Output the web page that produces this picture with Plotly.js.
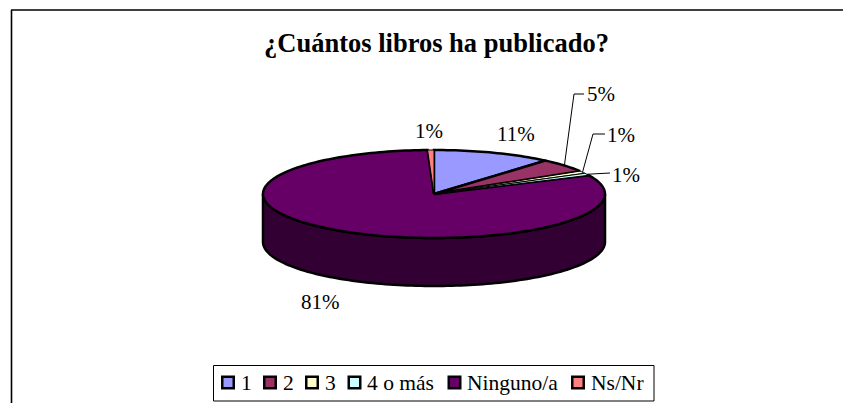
<!DOCTYPE html>
<html>
<head>
<meta charset="utf-8">
<script src="https://cdn.plot.ly/plotly-3.0.1.min.js"></script>
<style>html,body{margin:0;padding:0;background:#fff}#c{width:843px;height:403px}</style>
</head>
<body>
<div id="c"></div>
<script>
// Data
const categories = ['1', '2', '3', '4 o más', 'Ninguno/a', 'Ns/Nr'];
const values = [11.3, 5.0, 0.9, 0.8, 81.4, 0.6];
const colors = ['#9999FF', '#993366', '#FFFFCC', '#CCFFFF', '#660066', '#FF8080'];
const sideColors = ['#4D4D80', '#4D1A33', '#808066', '#668080', '#330033', '#804040'];
const labelPos = [[516, 134], [601, 94], [621, 135], [626, 175], [320, 302], [429, 131]];
const leaderElbows = [null, [[574, 94], [584, 94]], [[593, 134], [605, 134]], [[610, 173]], null, null];
const legendStarts = [221, 263, 305, 347.5, 447.5, 571];

// Geometry of the tilted pie
const cx = 434, cy = 194, rx = 171, ry = 44, depth = 48;
const FONT = '"Liberation Serif","Times New Roman",serif';
const total = values.reduce((a, b) => a + b, 0);

function rim(deg, dy) {
  const t = deg * Math.PI / 180;
  return [cx + rx * Math.sin(t), cy - ry * Math.cos(t) + (dy || 0)];
}
function arc(a, b, dy) {
  const n = Math.max(2, Math.ceil(Math.abs(b - a) / 1.5));
  const out = [];
  for (let i = 0; i <= n; i++) out.push(rim(a + (b - a) * i / n, dy));
  return out;
}
function polyTrace(pts, fill, name, width) {
  return {
    type: 'scatter', mode: 'lines', x: pts.map(p => p[0]), y: pts.map(p => p[1]),
    fill: 'toself', fillcolor: fill, line: {color: '#000', width: width, simplify: false},
    name: name, showlegend: false, hoverinfo: 'skip'
  };
}

const traces = [];
const annotations = [];
let angle = 0;
const spans = values.map(v => { const s = angle; angle += v / total * 360; return [s, angle]; });

// side walls (front half only)
spans.forEach((s, i) => {
  const a = Math.max(s[0], 90), b = Math.min(s[1], 270);
  if (b > a) {
    const pts = arc(a, b, 0).concat(arc(b, a, depth));
    pts.push(pts[0]);
    traces.push(polyTrace(pts, sideColors[i], categories[i] + ' lado', 2.5));
  }
});
// top faces: wide slices first, then the very thin ones on top with a lighter edge
const order = values.map((v, i) => i).sort((p, q) => values[q] - values[p]);
order.forEach(i => {
  const s = spans[i];
  const pts = [[cx, cy]].concat(arc(s[0], s[1], 0));
  pts.push([cx, cy]);
  traces.push(polyTrace(pts, colors[i], categories[i], values[i] < 1 ? 1 : 2.5));
});
// leader lines and percentage labels
spans.forEach((s, i) => {
  const pct = Math.round(values[i] / total * 100) + '%';
  annotations.push({
    x: labelPos[i][0], y: labelPos[i][1], xref: 'x', yref: 'y', text: pct, showarrow: false,
    font: {family: FONT, size: 21, color: '#000'}, xanchor: 'center', yanchor: 'middle'
  });
  if (leaderElbows[i]) {
    const pts = [rim((s[0] + s[1]) / 2, 0)].concat(leaderElbows[i]);
    traces.push({
      type: 'scatter', mode: 'lines', x: pts.map(p => p[0]), y: pts.map(p => p[1]),
      line: {color: '#000', width: 1}, showlegend: false, hoverinfo: 'skip'
    });
  }
});
// legend entries
traces.push({
  type: 'scatter', mode: 'markers', x: legendStarts.map(x => x + 7), y: categories.map(() => 382.5),
  marker: {symbol: 'square', size: 11.5, color: colors, line: {color: '#000', width: 2.5}},
  showlegend: false, hoverinfo: 'skip'
});
categories.forEach((c, i) => annotations.push({
  x: legendStarts[i] + 17.5, y: 383, xref: 'x', yref: 'y', text: c, showarrow: false,
  font: {family: FONT, size: 21.5, color: '#000'}, xanchor: 'left', yanchor: 'middle'
}));

const layout = {
  width: 843, height: 403, margin: {l: 0, r: 0, t: 0, b: 0},
  paper_bgcolor: '#fff', plot_bgcolor: '#fff', showlegend: false,
  title: {text: '<b>¿Cuántos libros ha publicado?</b>', font: {family: FONT, size: 26.5, color: '#000'},
    x: 436.5 / 843, xanchor: 'center', y: 1 - 42.5 / 403, yanchor: 'middle'},
  xaxis: {range: [0, 843], visible: false, fixedrange: true},
  yaxis: {range: [403, 0], visible: false, fixedrange: true},
  annotations: annotations,
  shapes: [
    {type: 'line', xref: 'x', yref: 'y', x0: 11.5, x1: 11.5, y0: 10, y1: 403, line: {color: '#000', width: 1.6}},
    {type: 'line', xref: 'x', yref: 'y', x0: 11, x1: 843, y0: 10, y1: 10, line: {color: '#000', width: 1.6}},
    {type: 'rect', xref: 'x', yref: 'y', x0: 213.5, x1: 654, y0: 365.5, y1: 401, line: {color: '#000', width: 1}, fillcolor: '#fff', layer: 'below'}
  ]
};
Plotly.newPlot('c', traces, layout, {displayModeBar: false, staticPlot: true});
</script>
</body>
</html>
